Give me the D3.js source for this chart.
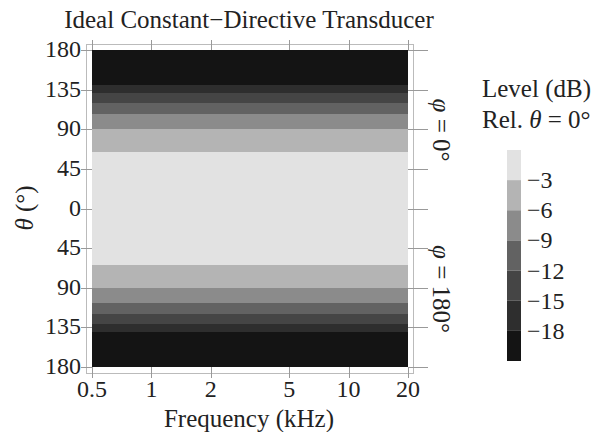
<!DOCTYPE html>
<html>
<head>
<meta charset="utf-8">
<script src="https://cdn.jsdelivr.net/npm/d3@7"></script>
<style>
  body { margin: 0; background: #fff; }
  text { font-family: "Liberation Serif", "Times New Roman", serif; fill: #222; }
</style>
</head>
<body>
<svg id="chart" width="593" height="432"></svg>
<script>
// band edges in theta (deg), same on both phi sides
var bandEdges = [0, 64, 90, 107, 120, 131, 140, 180];
// level bands (dB), lightest first
var bandLevels = ["> -3", "-3..-6", "-6..-9", "-9..-12", "-12..-15", "-15..-18", "< -18"];
var bandColors = ["#e2e2e2", "#b4b4b4", "#8b8b8b", "#626262", "#454545", "#2e2e2e", "#141414"];
var legendTicks = [-3, -6, -9, -12, -15, -18];
var freqTicks = [0.5, 1, 2, 5, 10, 20];
// signed theta: negative = phi 0 side (top), positive = phi 180 side (bottom)
var thetaTicks = [-180, -135, -90, -45, 0, 45, 90, 135, 180];

var svg = d3.select("#chart");

var xScale = d3.scaleLog().domain([0.5, 20]).range([92, 408]);
var yScale = d3.scaleLinear().domain([-180, 180]).range([50, 367]);

// bands
var bands = [];
for (var i = 0; i < bandEdges.length - 1; i++) {
  bands.push({ a: -bandEdges[i + 1], b: -bandEdges[i], c: bandColors[i] });
  bands.push({ a: bandEdges[i], b: bandEdges[i + 1], c: bandColors[i] });
}
svg.append("g").selectAll("rect")
  .data(bands)
  .enter().append("rect")
  .attr("x", xScale(0.5))
  .attr("width", xScale(20) - xScale(0.5))
  .attr("y", function(d){ return yScale(d.a) })
  .attr("height", function(d){ return yScale(d.b) - yScale(d.a) })
  .attr("fill", function(d){ return d.c })
  .attr("shape-rendering", "crispEdges");

// frame
svg.append("rect")
  .attr("x", 86.5).attr("y", 44.5)
  .attr("width", 327).attr("height", 329)
  .attr("fill", "none").attr("stroke", "#bbb").attr("stroke-width", 1);

// ticks
var tickCol = "#999";
var tg = svg.append("g").attr("stroke", tickCol).attr("stroke-width", 1);
thetaTicks.forEach(function(t){
  var y = Math.round(yScale(t)) + 0.5;
  tg.append("line").attr("x1", 81).attr("x2", 92).attr("y1", y).attr("y2", y);
  tg.append("line").attr("x1", 408).attr("x2", 428).attr("y1", y).attr("y2", y);
});
freqTicks.forEach(function(f){
  var x = Math.round(xScale(f)) + 0.5;
  tg.append("line").attr("x1", x).attr("x2", x).attr("y1", 367).attr("y2", 378);
  tg.append("line").attr("x1", x).attr("x2", x).attr("y1", 40).attr("y2", 50);
});

// y tick labels
svg.append("g").selectAll("text")
  .data(thetaTicks)
  .enter().append("text")
  .attr("x", 81)
  .attr("y", function(d){ return yScale(d) + 7 })
  .attr("text-anchor", "end")
  .attr("font-size", 24)
  .text(function(d){ return Math.abs(d) });

// x tick labels
svg.append("g").selectAll("text")
  .data(freqTicks)
  .enter().append("text")
  .attr("x", function(d){ return xScale(d) })
  .attr("y", 397)
  .attr("text-anchor", "middle")
  .attr("font-size", 24)
  .text(function(d){ return d });

// title and axis labels
svg.append("text").attr("x", 249).attr("y", 28).attr("text-anchor", "middle")
  .attr("font-size", 25).text("Ideal Constant\u2212Directive Transducer");
svg.append("text").attr("x", 249).attr("y", 427).attr("text-anchor", "middle")
  .attr("font-size", 25).text("Frequency (kHz)");
svg.append("text").attr("transform", "translate(33,208) rotate(-90)")
  .attr("text-anchor", "middle").attr("font-size", 25)
  .html('<tspan font-style="italic">\u03b8</tspan> (\u00b0)');

// phi labels on the right
svg.append("text").attr("transform", "translate(433,130) rotate(90)")
  .attr("text-anchor", "middle").attr("font-size", 25)
  .html('<tspan font-style="italic">\u03c6</tspan> = 0\u00b0');
svg.append("text").attr("transform", "translate(433,289) rotate(90)")
  .attr("text-anchor", "middle").attr("font-size", 25)
  .html('<tspan font-style="italic">\u03c6</tspan> = 180\u00b0');

// legend
svg.append("text").attr("x", 482).attr("y", 97).attr("font-size", 25).text("Level (dB)");
svg.append("text").attr("x", 482).attr("y", 128).attr("font-size", 25)
  .html('Rel. <tspan font-style="italic">\u03b8</tspan> = 0\u00b0');

var lScale = d3.scaleLinear().domain([0, 7]).range([150, 361]);
svg.append("g").selectAll("rect")
  .data(bandColors)
  .enter().append("rect")
  .attr("x", 507).attr("width", 14)
  .attr("y", function(d, i){ return lScale(i) })
  .attr("height", lScale(1) - lScale(0))
  .attr("fill", function(d){ return d });
svg.append("g").selectAll("text")
  .data(legendTicks)
  .enter().append("text")
  .attr("x", 527)
  .attr("y", function(d, i){ return lScale(i + 1) + 8 })
  .attr("font-size", 24)
  .text(function(d){ return "\u2212" + Math.abs(d) });
</script>
</body>
</html>
